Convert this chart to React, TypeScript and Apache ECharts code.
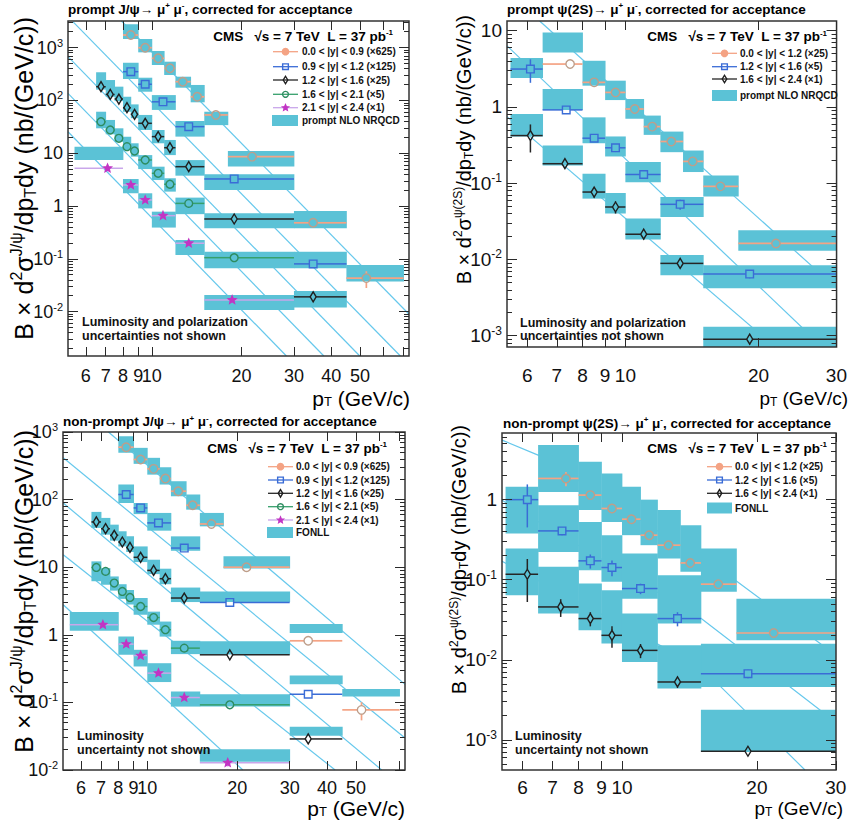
import React, { useEffect, useRef } from 'react';
import * as echarts from 'echarts';

const FONT = "'Liberation Sans', Arial, Helvetica, sans-serif";
const BAND = '#5BC2D6';
const THEORY_LINE = '#66C8EC';

// ================= Panel A: prompt J/psi =================
const A_o_edges = [8, 9, 10, 11, 12, 13.5, 15, 18, 30, 45, 70];
const A_o_pt = [8.5, 9.5, 10.5, 11.5, 12.7, 14.2, 16.4, 21.7, 34.8, 52.5];
const A_o_val = [1730, 995, 627, 405, 226, 117, 53, 8.6, 0.48, 0.043];
const A_o_err = [0.05, 0.05, 0.05, 0.05, 0.05, 0.06, 0.06, 0.06, 0.1, 0.35];
const A_o_hi = [2760, 1455, 863, 541, 281, 196, 61, 11, 0.8, 0.076];
const A_o_lo = [1455, 813, 468, 303, 174, 92, 34, 5.6, 0.38, 0.037];

const A_b_edges = [8, 9, 10, 12, 15, 30, 45];
const A_b_pt = [8.5, 9.5, 10.9, 13.3, 18.9, 34.8];
const A_b_val = [350, 202, 94, 31.8, 3.25, 0.08];
const A_b_err = [0.06, 0.06, 0.05, 0.05, 0.06, 0.12];
const A_b_hi = [518, 269, 126, 40.7, 3.98, 0.136];
const A_b_lo = [254, 146, 66, 20.6, 2.0, 0.066];

const A_k_edges = [6.5, 7, 7.5, 8, 8.5, 9, 10, 11, 12, 15, 30, 45];
const A_k_pt = [6.75, 7.25, 7.75, 8.25, 8.75, 9.5, 10.5, 11.5, 13.3, 18.9, 34.8];
const A_k_val = [182, 130, 106, 72.8, 54.6, 36.8, 20.6, 12.7, 5.55, 0.567, 0.019];
const A_k_err = [0.08, 0.06, 0.06, 0.06, 0.06, 0.05, 0.06, 0.06, 0.06, 0.08, 0.15];
const A_k_hi = [341, 243, 182, 117, 84, 53, 27.5, 17.8, 7.4, 0.73, 0.0246];
const A_k_lo = [160, 117, 97, 61, 46, 27.5, 15.4, 9.2, 3.75, 0.38, 0.0119];

const A_g_edges = [6.5, 7, 7.5, 8, 8.5, 9, 10, 11, 12, 15, 30];
const A_g_pt = [6.75, 7.25, 7.75, 8.25, 8.75, 9.5, 10.5, 11.5, 13.3, 18.9];
const A_g_val = [39.5, 27.5, 19.1, 13.3, 11.0, 7.43, 4.16, 2.58, 1.12, 0.105];
const A_g_err = [0.06, 0.06, 0.06, 0.06, 0.06, 0.06, 0.06, 0.06, 0.06, 0.08];
const A_g_hi = [61, 42.6, 29.6, 20.5, 15.4, 9.2, 5.55, 3.35, 1.44, 0.136];
const A_g_lo = [29.6, 22.8, 16.5, 11.5, 8.6, 5.0, 3.1, 1.87, 0.7, 0.066];

const A_p_edges = [5.5, 8, 9, 10, 12, 15, 30];
const A_p_pt = [7.1, 8.5, 9.5, 10.9, 13.3, 18.6];
const A_p_val = [5.18, 2.5, 1.3, 0.655, 0.197, 0.0166];
const A_p_err = [0.06, 0.06, 0.06, 0.06, 0.08, 0.1];
const A_p_hi = [13.3, 3.25, 1.74, 0.78, 0.227, 0.0206];
const A_p_lo = [7.4, 1.74, 0.9, 0.39, 0.118, 0.0107];

const A_line_o = [[7.91, 3190], [72.9, 0.009]];
const A_line_b = [[5.43, 3100], [68.3, 0.00144]];
const A_line_k = [[5.23, 673], [49.9, 0.00144]];
const A_line_g = [[5.23, 136], [37.8, 0.00144]];
const A_line_p = [[5.23, 25.5], [28.3, 0.00144]];

// ================= Panel B: prompt psi(2S) =================
const B_o_edges = [6.5, 8, 9, 10, 11, 12, 13.5, 15, 18, 30];
const B_o_pt = [7.5, 8.5, 9.5, 10.5, 11.5, 12.7, 14.2, 16.4, 21.9];
const B_o_val = [3.65, 2.1, 1.55, 0.94, 0.552, 0.352, 0.193, 0.0908, 0.0162];
const B_o_err = [0.1, 0.06, 0.05, 0.05, 0.05, 0.06, 0.07, 0.08, 0.1];
const B_o_hi = [9.45, 4.03, 2.21, 1.27, 0.77, 0.475, 0.268, 0.126, 0.0242];
const B_o_lo = [5.17, 1.9, 1.23, 0.7, 0.43, 0.255, 0.14, 0.067, 0.013];

const B_b_edges = [5.5, 6.5, 8, 9, 10, 12, 15, 30];
const B_b_pt = [6.1, 7.35, 8.5, 9.5, 11.0, 13.3, 19.1];
const B_b_val = [3.14, 0.914, 0.389, 0.291, 0.13, 0.0528, 0.00643];
const B_b_err = [0.34, 0.06, 0.07, 0.12, 0.08, 0.15, 0.12];
const B_b_hi = [4.37, 1.72, 0.73, 0.41, 0.189, 0.0658, 0.0084];
const B_b_lo = [2.39, 0.91, 0.334, 0.224, 0.103, 0.036, 0.0042];

const B_k_edges = [5.5, 6.5, 8, 9, 10, 12, 15, 30];
const B_k_pt = [6.1, 7.3, 8.5, 9.5, 11.0, 13.3, 19.1];
const B_k_val = [0.421, 0.18, 0.0765, 0.0487, 0.0214, 0.00887, 0.0009];
const B_k_err = [0.4, 0.06, 0.15, 0.18, 0.15, 0.12, 0.15];
const B_k_hi = [0.81, 0.312, 0.133, 0.0743, 0.0344, 0.0114, 0.00131];
const B_k_lo = [0.41, 0.171, 0.0627, 0.04, 0.0182, 0.0062, 0.00067];

const B_line_o = [[6.4, 13.4], [30, 0.0042]];
const B_line_b = [[5.4, 6.33], [27.9, 0.00071]];
const B_line_k = [[5.4, 0.746], [21.8, 0.00071]];

// ================= Panel C: non-prompt J/psi =================
const C_o_edges = [8, 9, 10, 11, 12, 13.5, 15, 18, 30, 45, 70];
const C_o_pt = [8.5, 9.5, 10.5, 11.5, 12.7, 14.2, 16.4, 21.5, 34.6, 52.2];
const C_o_val = [596, 392, 285, 205, 133, 82.4, 43.6, 10.0, 0.815, 0.0775];
const C_o_err = [0.05, 0.05, 0.05, 0.05, 0.05, 0.05, 0.06, 0.06, 0.08, 0.3];
const C_o_hi = [867, 583, 415, 301, 187, 119, 63.5, 14.5, 1.44, 0.158];
const C_o_lo = [492, 338, 234, 167, 112, 71, 40.2, 9.6, 1.06, 0.122];

const C_b_edges = [8, 9, 10, 12, 15, 30, 45];
const C_b_pt = [8.5, 9.5, 10.9, 13.3, 18.9, 34.6];
const C_b_val = [119, 75.3, 45.2, 19.2, 3.01, 0.132];
const C_b_err = [0.06, 0.06, 0.05, 0.05, 0.06, 0.1];
const C_b_hi = [167, 89, 63.5, 28.6, 4.38, 0.25];
const C_b_lo = [89, 61, 34.7, 17.5, 3.05, 0.186];

const C_k_edges = [6.5, 7, 7.5, 8, 8.5, 9, 10, 11, 12, 15, 30, 45];
const C_k_pt = [6.75, 7.25, 7.75, 8.25, 8.75, 9.5, 10.5, 11.5, 13.3, 18.9, 34.6];
const C_k_val = [46.7, 37.2, 29.6, 23.6, 19.6, 14.0, 8.97, 6.76, 3.5, 0.506, 0.0288];
const C_k_err = [0.07, 0.06, 0.06, 0.06, 0.06, 0.05, 0.06, 0.06, 0.06, 0.08, 0.12];
const C_k_hi = [65.8, 53.6, 42.6, 34, 28.6, 20.3, 12.9, 9.5, 5.0, 0.8, 0.0438];
const C_k_lo = [38.1, 30.3, 24.7, 20.3, 16.8, 11.9, 7.9, 5.6, 3.05, 0.51, 0.0322];

const C_g_edges = [6.5, 7, 7.5, 8, 8.5, 9, 10, 11, 12, 15, 30];
const C_g_pt = [6.75, 7.25, 7.75, 8.25, 8.75, 9.5, 10.5, 11.5, 13.3, 18.9];
const C_g_val = [9.93, 8.67, 5.83, 4.38, 3.57, 2.62, 1.8, 1.19, 0.635, 0.092];
const C_g_err = [0.06, 0.06, 0.06, 0.06, 0.06, 0.06, 0.06, 0.06, 0.06, 0.08];
const C_g_hi = [12.2, 9.7, 7.3, 5.6, 4.6, 3.5, 2.2, 1.57, 0.815, 0.132];
const C_g_lo = [6.2, 5.5, 4.5, 3.4, 2.8, 1.98, 1.41, 0.94, 0.518, 0.0867];

const C_p_edges = [5.5, 8, 9, 10, 12, 15, 30];
const C_p_pt = [7.1, 8.5, 9.5, 10.9, 13.3, 18.6];
const C_p_val = [1.41, 0.728, 0.493, 0.271, 0.118, 0.0128];
const C_p_err = [0.06, 0.07, 0.07, 0.07, 0.08, 0.12];
const C_p_hi = [2.17, 0.94, 0.6, 0.38, 0.145, 0.0203];
const C_p_lo = [1.15, 0.506, 0.34, 0.2, 0.0867, 0.0133];

const C_line_o = [[7.41, 1000], [73, 0.185]];
const C_line_b = [[5.23, 415], [73, 0.0298]];
const C_line_k = [[5.23, 89], [61, 0.01]];
const C_line_g = [[5.23, 15.3], [42.6, 0.01]];
const C_line_p = [[5.23, 2.78], [20.9, 0.01]];

// ================= Panel D: non-prompt psi(2S) =================
const D_o_edges = [6.5, 8, 9, 10, 11, 12, 13.5, 15, 18, 30];
const D_o_pt = [7.5, 8.5, 9.5, 10.5, 11.5, 12.7, 14.2, 16.4, 21.8];
const D_o_val = [1.84, 1.14, 0.776, 0.57, 0.36, 0.27, 0.162, 0.088, 0.0216];
const D_o_err = [0.2, 0.1, 0.12, 0.12, 0.12, 0.1, 0.12, 0.1, 0.1];
const D_o_hi = [4.8, 2.97, 2.12, 1.45, 1.0, 0.74, 0.48, 0.245, 0.058];
const D_o_lo = [1.25, 0.74, 0.527, 0.36, 0.27, 0.184, 0.126, 0.0705, 0.0175];

const D_b_edges = [5.5, 6.5, 8, 9, 10, 12, 15, 30];
const D_b_pt = [6.15, 7.35, 8.5, 9.5, 11.0, 13.3, 19.1];
const D_b_val = [1.0, 0.407, 0.172, 0.142, 0.0776, 0.0327, 0.0067];
const D_b_err = [0.55, 0.12, 0.2, 0.22, 0.15, 0.2, 0.12];
const D_b_hi = [1.45, 0.853, 0.527, 0.36, 0.212, 0.114, 0.0159];
const D_b_lo = [0.378, 0.222, 0.131, 0.094, 0.058, 0.0283, 0.00457];

const D_k_edges = [5.5, 6.5, 8, 9, 10, 12, 15, 30];
const D_k_pt = [6.15, 7.3, 8.5, 9.5, 11.0, 13.3, 19.1];
const D_k_val = [0.117, 0.0457, 0.0327, 0.0202, 0.0131, 0.00528, 0.00072];
const D_k_err = [0.55, 0.25, 0.2, 0.3, 0.2, 0.15, 0.12];
const D_k_hi = [0.245, 0.145, 0.0896, 0.074, 0.0378, 0.0152, 0.00238];
const D_k_lo = [0.064, 0.0378, 0.0234, 0.016, 0.0094, 0.00437, 0.000704];

const D_line_o = [[5.4, 5.54], [6.5, 3.6], [17.9, 0.0986], [30, 0.0114]];
const D_line_b = [[5.4, 0.986], [14.9, 0.034], [30, 0.00166]];
const D_line_k = [[5.4, 0.17], [15.0, 0.0081], [25.6, 0.00042]];

// ================= Tick labels / legends =================
const X_LABELS_WIDE = [6, 7, 8, 9, 10, 20, 30, 40, 50];
const X_TICKS_WIDE = [6, 7, 8, 9, 10, 20, 30, 40, 50, 60, 70];
const X_LABELS_NARROW = [6, 7, 8, 9, 10, 20, 30];
const X_TICKS_NARROW = [6, 7, 8, 9, 10, 20, 30];

const LEG_JPSI = ['0.0 < |y| < 0.9 (×625)', '0.9 < |y| < 1.2 (×125)', '1.2 < |y| < 1.6 (×25)', '1.6 < |y| < 2.1 (×5)', '2.1 < |y| < 2.4 (×1)'];
const LEG_PSI2S = ['0.0 < |y| < 1.2 (×25)', '1.2 < |y| < 1.6 (×5)', '1.6 < |y| < 2.4 (×1)'];

// ================= Styles =================
const STY: Record<string, any> = {
  o: { shape: 'circle', stroke: '#BE9E8A', fill: 'none', bar: '#F4A384', size: 4.2, lw: 1.7 },
  b: { shape: 'square', stroke: '#3A6CD6', fill: 'none', bar: '#3A6CD6', size: 3.8, lw: 1.5 },
  k: { shape: 'diamond', stroke: '#1E1E1E', fill: 'none', bar: '#262626', size: 4.0, lw: 1.5 },
  g: { shape: 'circle', stroke: '#2E8C60', fill: 'none', bar: '#36A06C', size: 3.9, lw: 1.5 },
  p: { shape: 'star', stroke: '#C235C4', fill: '#C235C4', bar: '#C9A6EA', size: 4.0, lw: 1.5 },
};

function mk(k: string, edges: number[], pt: number[], val: number[], err: number[], hi: number[], lo: number[]) {
  return { k, edges, pt, val, err, hi, lo };
}

const PANELS = [
  {
    g: [68, 21, 341, 335], xr: [5.23, 73], yr: [0.00144, 3190], xLab: X_LABELS_WIDE, xTick: X_TICKS_WIDE, fs: 18, xlm: 11,
    series: [
      mk('o', A_o_edges, A_o_pt, A_o_val, A_o_err, A_o_hi, A_o_lo),
      mk('b', A_b_edges, A_b_pt, A_b_val, A_b_err, A_b_hi, A_b_lo),
      mk('k', A_k_edges, A_k_pt, A_k_val, A_k_err, A_k_hi, A_k_lo),
      mk('g', A_g_edges, A_g_pt, A_g_val, A_g_err, A_g_hi, A_g_lo),
      mk('p', A_p_edges, A_p_pt, A_p_val, A_p_err, A_p_hi, A_p_lo),
    ],
    lines: [A_line_o, A_line_b, A_line_k, A_line_g, A_line_p],
  },
  {
    g: [507, 21, 332, 326], xr: [5.4, 30.02], yr: [0.00071, 13.4], xLab: X_LABELS_NARROW, xTick: X_TICKS_NARROW, fs: 19, xlm: 19,
    series: [
      mk('o', B_o_edges, B_o_pt, B_o_val, B_o_err, B_o_hi, B_o_lo),
      mk('b', B_b_edges, B_b_pt, B_b_val, B_b_err, B_b_hi, B_b_lo),
      mk('k', B_k_edges, B_k_pt, B_k_val, B_k_err, B_k_hi, B_k_lo),
    ],
    lines: [B_line_o, B_line_b, B_line_k],
  },
  {
    g: [63, 432, 342, 338], xr: [5.22, 73], yr: [0.01, 1000], xLab: X_LABELS_WIDE, xTick: X_TICKS_WIDE, fs: 18, xlm: 9,
    series: [
      mk('o', C_o_edges, C_o_pt, C_o_val, C_o_err, C_o_hi, C_o_lo),
      mk('b', C_b_edges, C_b_pt, C_b_val, C_b_err, C_b_hi, C_b_lo),
      mk('k', C_k_edges, C_k_pt, C_k_val, C_k_err, C_k_hi, C_k_lo),
      mk('g', C_g_edges, C_g_pt, C_g_val, C_g_err, C_g_hi, C_g_lo),
      mk('p', C_p_edges, C_p_pt, C_p_val, C_p_err, C_p_hi, C_p_lo),
    ],
    lines: [C_line_o, C_line_b, C_line_k, C_line_g, C_line_p],
  },
  {
    g: [502, 433, 334, 337], xr: [5.4, 30.02], yr: [0.00042, 6.8], xLab: X_LABELS_NARROW, xTick: X_TICKS_NARROW, fs: 19, xlm: 8,
    series: [
      mk('o', D_o_edges, D_o_pt, D_o_val, D_o_err, D_o_hi, D_o_lo),
      mk('b', D_b_edges, D_b_pt, D_b_val, D_b_err, D_b_hi, D_b_lo),
      mk('k', D_k_edges, D_k_pt, D_k_val, D_k_err, D_k_hi, D_k_lo),
    ],
    lines: [D_line_o, D_line_b, D_line_k],
  },
];

const rich = (size: number, bold: boolean, subPad?: number) => ({
  n: { fontSize: size, fontFamily: FONT, fontWeight: bold ? 'bold' : 'normal', color: '#111' },
  u: { fontSize: Math.round(size * 0.62), fontFamily: FONT, fontWeight: bold ? 'bold' : 'normal', color: '#111', padding: [0, 0, Math.round(size * 0.55), 0] },
  d: { fontSize: Math.round(size * 0.62), fontFamily: FONT, fontWeight: bold ? 'bold' : 'normal', color: '#111', padding: [subPad != null ? subPad : Math.round(size * 0.5), 0, 0, 0] },
});

const TEXTS = [
  {
    title: '{n|prompt J/ψ→ μ}{u|+}{n| μ}{u|-}{n|, corrected for acceptance}', tx: 68, ty: 9,
    cms: [393, 36], leg: { x1: 273, x2: 298, tx: 302, rows: [51.7, 66.7, 80, 94.3, 107.7], keys: ['o', 'b', 'k', 'g', 'p'], labels: LEG_JPSI, box: [272, 115, 26, 11], boxText: 'prompt NLO NRQCD' },
    lumi: [82, 328.5, 'Luminosity and polarization', 'uncertainties not shown'],
    yt: [23.5, 17, 25, 'J/ψ'], xt: [410, 398, 21],
  },
  {
    title: '{n|prompt ψ(2S)→ μ}{u|+}{n| μ}{u|-}{n|, corrected for acceptance}', tx: 507, ty: 9,
    cms: [827, 36.7], leg: { x1: 712, x2: 737, tx: 740, rows: [53.3, 66.7, 79], keys: ['o', 'b', 'k'], labels: LEG_PSI2S, box: [712, 90, 25, 11], boxText: 'prompt NLO NRQCD' },
    lumi: [520, 329, 'Luminosity and polarization', 'uncertainties not shown'],
    yt: [463.5, 15, 20, 'ψ(2S)'], xt: [848, 398, 19],
  },
  {
    title: '{n|non-prompt J/ψ→ μ}{u|+}{n| μ}{u|-}{n|, corrected for acceptance}', tx: 63, ty: 421.7,
    cms: [387, 448.3], leg: { x1: 268, x2: 293, tx: 296, rows: [466.7, 480, 493.3, 506.7, 520], keys: ['o', 'b', 'k', 'g', 'p'], labels: LEG_JPSI, box: [267, 527, 26, 11], boxText: 'FONLL' },
    lumi: [77, 742.5, 'Luminosity', 'uncertainty not shown'],
    yt: [23.5, 430, 25, 'J/ψ'], xt: [405, 808, 21],
  },
  {
    title: '{n|non-prompt ψ(2S)→ μ}{u|+}{n| μ}{u|-}{n|, corrected for acceptance}', tx: 503, ty: 423.3,
    cms: [827, 448.3], leg: { x1: 707, x2: 732, tx: 735, rows: [466.7, 480, 493.3], keys: ['o', 'b', 'k'], labels: LEG_PSI2S, box: [707, 502.5, 25, 11], boxText: 'FONLL' },
    lumi: [515, 742.5, 'Luminosity', 'uncertainty not shown'],
    yt: [459, 425, 20, 'ψ(2S)'], xt: [843, 808, 19],
  },
];

function markerEl(k: string, cx: number, cy: number, scale = 1, legend = false): any {
  const s = STY[k];
  const r = s.size * scale;
  let fill = s.fill;
  if (legend && k === 'o') fill = '#F4A384';
  const style = { fill, stroke: legend && k === 'o' ? '#F4A384' : s.stroke, lineWidth: 1.4 };
  if (s.shape === 'circle') return { type: 'circle', shape: { cx, cy, r }, style };
  if (s.shape === 'square') return { type: 'rect', shape: { x: cx - r, y: cy - r, width: 2 * r, height: 2 * r }, style };
  if (s.shape === 'diamond') return { type: 'polygon', shape: { points: [[cx, cy - r * 1.25], [cx + r * 0.75, cy], [cx, cy + r * 1.25], [cx - r * 0.75, cy]] }, style };
  const pts: number[][] = [];
  for (let i = 0; i < 10; i++) {
    const a = -Math.PI / 2 + (i * Math.PI) / 5;
    const rr = i % 2 === 0 ? r : r * 0.45;
    pts.push([cx + rr * Math.cos(a), cy + rr * Math.sin(a)]);
  }
  return { type: 'polygon', shape: { points: pts }, style };
}

function gaps(k: string) {
  const s = STY[k];
  if (s.shape === 'diamond') return [s.size * 0.75, s.size * 1.25];
  if (s.shape === 'star') return [s.size * 0.6, s.size * 0.6];
  return [s.size, s.size];
}

function decadesIn(r: number[]) {
  const out: number[] = [];
  for (let n = Math.floor(Math.log10(r[0])); n <= Math.ceil(Math.log10(r[1])); n++) {
    const v = Number(Math.pow(10, n).toPrecision(6));
    if (v >= r[0] && v <= r[1]) out.push(v);
  }
  return out;
}
function minorsIn(r: number[]) {
  const out: number[] = [];
  for (let n = Math.floor(Math.log10(r[0])); n <= Math.ceil(Math.log10(r[1])); n++) {
    for (let k = 2; k <= 9; k++) {
      const v = Number((k * Math.pow(10, n)).toPrecision(6));
      if (v >= r[0] && v <= r[1]) out.push(v);
    }
  }
  return out;
}

function buildOption() {
  const grids: any[] = [];
  const xAxes: any[] = [];
  const yAxes: any[] = [];
  const series: any[] = [];
  const graphic: any[] = [];
  const tickLine = { color: '#2a2a2a', width: 1 };

  PANELS.forEach((P, gi) => {
    grids.push({ left: P.g[0], top: P.g[1], width: P.g[2], height: P.g[3], show: true, borderColor: '#333333', borderWidth: 1.5, backgroundColor: 'transparent', z: 5 });
    const baseX = { type: 'log', logBase: 10, gridIndex: gi, min: P.xr[0], max: P.xr[1], splitLine: { show: false }, axisLine: { show: false, onZero: false }, minorTick: { show: false }, z: 6 };
    xAxes.push({
      ...baseX, position: 'bottom',
      axisTick: { show: true, inside: true, length: 9, customValues: P.xTick, lineStyle: tickLine },
      axisLabel: { show: true, customValues: P.xLab, margin: P.xlm, fontSize: P.fs, fontFamily: FONT, color: '#111', formatter: (v: number) => String(Math.round(v)) },
    });
    xAxes.push({ ...baseX, position: 'top', axisTick: { show: true, inside: true, length: 9, customValues: P.xTick, lineStyle: tickLine }, axisLabel: { show: false } });
    const dec = decadesIn(P.yr);
    const minr = minorsIn(P.yr);
    const baseY = { type: 'log', logBase: 10, gridIndex: gi, min: P.yr[0], max: P.yr[1], splitLine: { show: false }, axisLine: { show: false, onZero: false }, minorTick: { show: false }, z: 6 };
    const ylab = (v: number) => {
      const n = Math.round(Math.log10(v));
      if (n === 0) return '{b|1}';
      if (n === 1) return '{b|10}';
      return '{b|10}{s|' + n + '}';
    };
    yAxes.push({
      ...baseY, position: 'left',
      axisTick: { show: true, inside: true, length: 10, customValues: dec, lineStyle: tickLine },
      axisLabel: {
        show: true, customValues: dec, margin: 5, formatter: ylab,
        rich: {
          b: { fontSize: P.fs, fontFamily: FONT, color: '#111' },
          s: { fontSize: Math.round(P.fs * 0.62), fontFamily: FONT, color: '#111', padding: [0, 0, Math.round(P.fs * 0.55), 0] },
        },
      },
    });
    yAxes.push({ ...baseY, position: 'left', axisTick: { show: true, inside: true, length: 5, customValues: minr, lineStyle: tickLine }, axisLabel: { show: false } });
    yAxes.push({ ...baseY, position: 'right', axisTick: { show: true, inside: true, length: 10, customValues: dec, lineStyle: tickLine }, axisLabel: { show: false } });
    yAxes.push({ ...baseY, position: 'right', axisTick: { show: true, inside: true, length: 5, customValues: minr, lineStyle: tickLine }, axisLabel: { show: false } });

    const xi = gi * 2;
    const yi = gi * 4;
    P.lines.forEach((l) => {
      series.push({ type: 'line', xAxisIndex: xi, yAxisIndex: yi, data: l, symbol: 'none', silent: true, clip: true, z: 1, lineStyle: { color: THEORY_LINE, width: 1.2 } });
    });
    P.series.forEach((s) => {
      series.push({
        type: 'custom', xAxisIndex: xi, yAxisIndex: yi, z: 2, silent: true, clip: true,
        data: s.hi.map((h, i) => [s.edges[i], s.edges[i + 1], s.lo[i], h]),
        encode: { x: [0, 1], y: [2, 3] },
        renderItem: (params: any, api: any) => {
          const a = api.coord([api.value(0), api.value(3)]);
          const b = api.coord([api.value(1), api.value(2)]);
          const cs = params.coordSys;
          const rect = echarts.graphic.clipRectByRect(
            { x: a[0], y: a[1], width: b[0] - a[0] + 0.4, height: b[1] - a[1] },
            { x: cs.x, y: cs.y, width: cs.width, height: cs.height }
          );
          if (!rect) return null;
          return { type: 'rect', shape: rect, style: { fill: BAND } };
        },
      });
    });
    P.series.forEach((s) => {
      const st = STY[s.k];
      const [gx, gy] = gaps(s.k);
      series.push({
        type: 'custom', xAxisIndex: xi, yAxisIndex: yi, z: 3, silent: true,
        data: s.pt.map((x, i) => [x, s.edges[i], s.edges[i + 1], s.val[i], s.err[i]]),
        encode: { x: 0, y: 3 },
        renderItem: (params: any, api: any) => {
          const x = api.value(0), xl = api.value(1), xh = api.value(2), y = api.value(3), e = api.value(4);
          const c = api.coord([x, y]);
          const L = api.coord([xl, y])[0];
          const R = api.coord([xh, y])[0];
          const T = api.coord([x, y * (1 + e)])[1];
          const B = api.coord([x, y * (1 - e)])[1];
          const ls = { stroke: st.bar, lineWidth: st.lw };
          const ch: any[] = [];
          if (c[0] - gx > L) ch.push({ type: 'line', shape: { x1: L, y1: c[1], x2: c[0] - gx, y2: c[1] }, style: ls });
          if (R > c[0] + gx) ch.push({ type: 'line', shape: { x1: c[0] + gx, y1: c[1], x2: R, y2: c[1] }, style: ls });
          if (c[1] - gy > T) ch.push({ type: 'line', shape: { x1: c[0], y1: T, x2: c[0], y2: c[1] - gy }, style: ls });
          if (B > c[1] + gy) ch.push({ type: 'line', shape: { x1: c[0], y1: c[1] + gy, x2: c[0], y2: B }, style: ls });
          ch.push(markerEl(s.k, c[0], c[1]));
          return { type: 'group', children: ch };
        },
      });
    });

    // ---- texts & legend ----
    const T = TEXTS[gi];
    graphic.push({ type: 'text', x: T.tx, y: T.ty, z: 100, style: { text: T.title, rich: rich(13.5, true), align: 'left', verticalAlign: 'middle', textAlign: 'left', textVerticalAlign: 'middle' } });
    graphic.push({ type: 'text', x: T.cms[0], y: T.cms[1], z: 100, style: { text: '{n|CMS   √s = 7 TeV  L = 37 pb}{u|-1}', rich: rich(13.5, true), align: 'right', verticalAlign: 'middle', textAlign: 'right', textVerticalAlign: 'middle' } });
    const lg = T.leg;
    lg.keys.forEach((k, i) => {
      const y = lg.rows[i];
      graphic.push({ type: 'line', z: 100, shape: { x1: lg.x1, y1: y, x2: lg.x2, y2: y }, style: { stroke: STY[k].bar, lineWidth: 1.3 } });
      const m = markerEl(k, (lg.x1 + lg.x2) / 2, y, 0.75, true);
      m.z = 101;
      graphic.push(m);
      graphic.push({ type: 'text', x: lg.tx, y, z: 100, style: { text: lg.labels[i], font: `bold 10px ${FONT}`, fill: '#111', align: 'left', verticalAlign: 'middle', textAlign: 'left', textVerticalAlign: 'middle' } });
    });
    graphic.push({ type: 'rect', z: 100, shape: { x: lg.box[0], y: lg.box[1], width: lg.box[2], height: lg.box[3] }, style: { fill: BAND } });
    graphic.push({ type: 'text', x: lg.tx, y: lg.box[1] + lg.box[3] / 2, z: 100, style: { text: lg.boxText, font: `bold 10px ${FONT}`, fill: '#111', align: 'left', verticalAlign: 'middle', textAlign: 'left', textVerticalAlign: 'middle' } });
    // two-line note, drawn as two separate lines that do not overlap
    graphic.push({ type: 'text', x: T.lumi[0], y: T.lumi[1], z: 100, style: { text: T.lumi[2], font: `bold 12.5px ${FONT}`, fill: '#111', align: 'left', verticalAlign: 'bottom', textAlign: 'left', textVerticalAlign: 'bottom' } });
    graphic.push({ type: 'text', x: T.lumi[0], y: (T.lumi[1] as number) + 0.5, z: 100, style: { text: T.lumi[3], font: `bold 12.5px ${FONT}`, fill: '#111', align: 'left', verticalAlign: 'top', textAlign: 'left', textVerticalAlign: 'top' } });
    graphic.push({
      type: 'text', x: T.yt[0], y: T.yt[1], rotation: Math.PI / 2, z: 100,
      style: { text: `{n|B × d}{u|2}{n|σ}{u|${T.yt[3]}}{n|/dp}{d|T}{n|dy (nb/(GeV/c))}`, rich: rich(T.yt[2] as number, false), align: 'right', verticalAlign: 'middle', textAlign: 'right', textVerticalAlign: 'middle' },
    });
    graphic.push({
      type: 'text', x: T.xt[0], y: T.xt[1], z: 100,
      style: { text: '{n|p}{d|T}{n| (GeV/c)}', rich: rich(T.xt[2], false, 7), align: 'right', verticalAlign: 'middle', textAlign: 'right', textVerticalAlign: 'middle' },
    });
  });

  return { animation: false, backgroundColor: '#ffffff', grid: grids, xAxis: xAxes, yAxis: yAxes, series, graphic };
}

export default function App() {
  const ref = useRef<HTMLDivElement>(null);
  useEffect(() => {
    if (!ref.current) return;
    const chart = echarts.init(ref.current, null, { renderer: 'svg' });
    chart.setOption(buildOption() as any);
    return () => chart.dispose();
  }, []);
  return <div ref={ref} style={{ position: 'absolute', left: 0, top: 0, width: 850, height: 825 }} />;
}
